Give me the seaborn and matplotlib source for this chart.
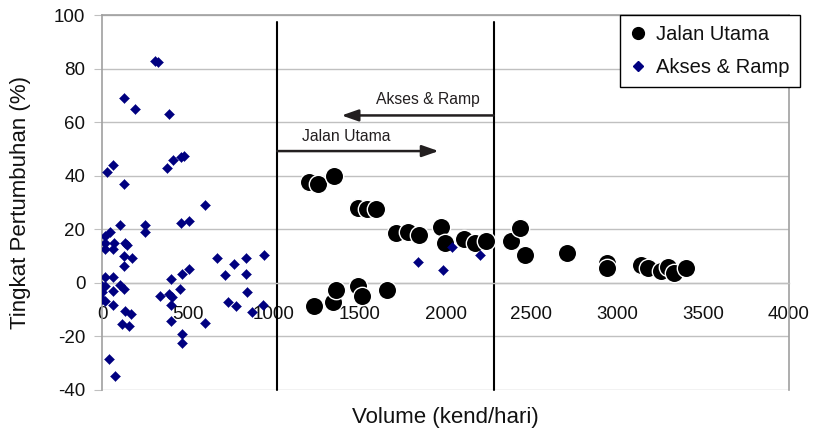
import matplotlib
matplotlib.use("Agg")
import matplotlib.pyplot as plt
from matplotlib.lines import Line2D
import seaborn as sns
import pandas as pd

# Jalan Utama (main road) series
jalan_x = [1205, 1255, 1350, 1490, 1545, 1595, 1709, 1783, 1846, 1973, 1996,
           2108, 2174, 2233, 1236, 1346, 1360, 1492, 1515, 1657, 2380, 2432,
           2461, 2709, 2942, 2942, 3140, 3178, 3256, 3298, 3333, 3401]
jalan_y = [37.5, 37.0, 40.0, 28.0, 27.5, 27.5, 18.5, 19.0, 17.8, 21.0, 14.8,
           16.5, 15.0, 15.8, -8.8, -7.3, -2.8, -1.2, -5.0, -2.8, 15.5, 20.5,
           10.3, 11.0, 7.5, 5.5, 6.8, 5.6, 4.4, 6.0, 3.6, 5.6]

# Akses & Ramp series
akses_x = [310, 325, 126, 190, 388, 29, 62, 126, 378, 411, 460, 480,
           597, 107, 248, 248, 461, 508, 16, 48, 16, 16, 68, 62,
           136, 145, 126, 174, 126, 669, 771, 837, 944, 717, 839, 401,
           465, 508, 19, 62, 0, 19, 0, 62, 107, 126, 0, 19, 62,
           339, 388, 407, 401, 455, 843, 736, 781, 872, 940, 136, 170,
           116, 155, 401, 597, 465, 465, 39, 74,
           1841, 2038, 1986, 2203]
akses_y = [83.0, 82.5, 69.0, 65.0, 63.0, 41.5, 44.0, 37.0, 43.0, 46.0, 47.0, 47.5,
           29.0, 21.5, 21.5, 19.0, 22.3, 23.0, 17.5, 19.0, 14.7, 12.8, 15.0, 12.8,
           15.0, 14.3, 10.0, 9.3, 6.3, 9.3, 7.0, 9.3, 10.5, 3.0, 3.4, 1.5,
           3.4, 5.0, 2.1, 2.1, -1.2, -1.2, -3.5, -2.9, -0.8, -2.3, -6.0, -6.9, -8.2,
           -5.0, -4.1, -5.4, -8.3, -2.3, -3.5, -7.0, -8.5, -11.0, -8.3, -10.4, -11.7,
           -15.4, -16.0, -14.2, -15.0, -19.2, -22.3, -28.6, -34.8,
           7.8, 13.3, 4.9, 10.5]

x_ticks = [0, 500, 1000, 1500, 2000, 2500, 3000, 3500, 4000]
y_ticks = [-40, -20, 0, 20, 40, 60, 80, 100]
boundary_lines = [1020, 2280]

sns.set_style("white")
plt.rcParams['font.family'] = ['Liberation Sans', 'DejaVu Sans']

df_j = pd.DataFrame({"Volume": jalan_x, "Growth": jalan_y})
df_a = pd.DataFrame({"Volume": akses_x, "Growth": akses_y})

fig = plt.figure(figsize=(8.15, 4.3), dpi=100)
ax = fig.add_axes([102/815, 1-390/430, (789-102)/815, (390-15)/430])

sns.scatterplot(data=df_j, x="Volume", y="Growth", ax=ax, color="black",
                marker="o", s=175, edgecolor="white", linewidth=1.0,
                zorder=3, legend=False)
sns.scatterplot(data=df_a, x="Volume", y="Growth", ax=ax, color="#000080",
                marker="D", s=26, edgecolor="#000080", linewidth=0.3,
                zorder=4, legend=False)

ax.set_xlim(0, 4000)
ax.set_ylim(-40, 100)
ax.set_xticks(x_ticks)
ax.set_yticks(y_ticks)
ax.set_xticklabels([str(t) for t in x_ticks])
ax.set_yticklabels([str(t) for t in y_ticks])

ax.yaxis.grid(True, color="#c0c0c0", linewidth=1.0)
ax.set_axisbelow(True)

for side in ["top", "left", "right"]:
    ax.spines[side].set_visible(True)
    ax.spines[side].set_color("#a0a0a0")
    ax.spines[side].set_linewidth(1.2)
ax.spines["bottom"].set_position(("data", 0))
ax.spines["bottom"].set_color("#c0c0c0")
ax.spines["bottom"].set_linewidth(1.0)

ax.tick_params(axis="x", direction="inout", length=5, color="#c0c0c0",
               pad=14, labelcolor="#111111", labelsize=13.5)
ax.tick_params(axis="y", direction="out", length=6, color="#c0c0c0",
               pad=6, labelcolor="#111111", left=True, labelsize=13.5)

ax.set_xlabel("Volume (kend/hari)", fontsize=16, color="#111111")
ax.xaxis.set_label_coords(0.5, -0.045)
ax.set_ylabel("Tingkat Pertumbuhan (%)", fontsize=16, color="#111111")
ax.yaxis.set_label_coords(-0.104, 0.5)

for bx in boundary_lines:
    ax.plot([bx, bx], [97.5, -40], color="black", linewidth=1.5, zorder=2,
            clip_on=False)

arrow_col = "#231f20"
ax.annotate("", xy=(1395, 62.5), xytext=(boundary_lines[1], 62.5),
            arrowprops=dict(arrowstyle="-|>,head_length=1.0,head_width=0.35",
                            color=arrow_col, lw=1.8, shrinkA=0, shrinkB=0))
ax.text(2200, 68.5, "Akses & Ramp", fontsize=11.3, ha="right", va="center",
        color=arrow_col)
ax.annotate("", xy=(1960, 49.2), xytext=(boundary_lines[0], 49.2),
            arrowprops=dict(arrowstyle="-|>,head_length=1.0,head_width=0.35",
                            color=arrow_col, lw=1.8, shrinkA=0, shrinkB=0))
ax.text(1165, 54.8, "Jalan Utama", fontsize=11.3, ha="left", va="center",
        color=arrow_col)

handles = [
    Line2D([], [], linestyle="none", marker="o", color="black",
           markersize=8.5, label="Jalan Utama"),
    Line2D([], [], linestyle="none", marker="D", color="#000080",
           markersize=5, label="Akses & Ramp"),
]
leg = ax.legend(handles=handles, loc="upper left",
                bbox_to_anchor=(620/815, 1-15/430), bbox_transform=fig.transFigure,
                fontsize=14.5, frameon=True, fancybox=False, framealpha=1,
                edgecolor="black", handlelength=0.8, handletextpad=0.5,
                labelspacing=0.68, borderpad=0.5, borderaxespad=0)
leg.get_frame().set_linewidth(1.0)
for t in leg.get_texts():
    t.set_color("#111111")

fig.savefig("out.png", dpi=100)
